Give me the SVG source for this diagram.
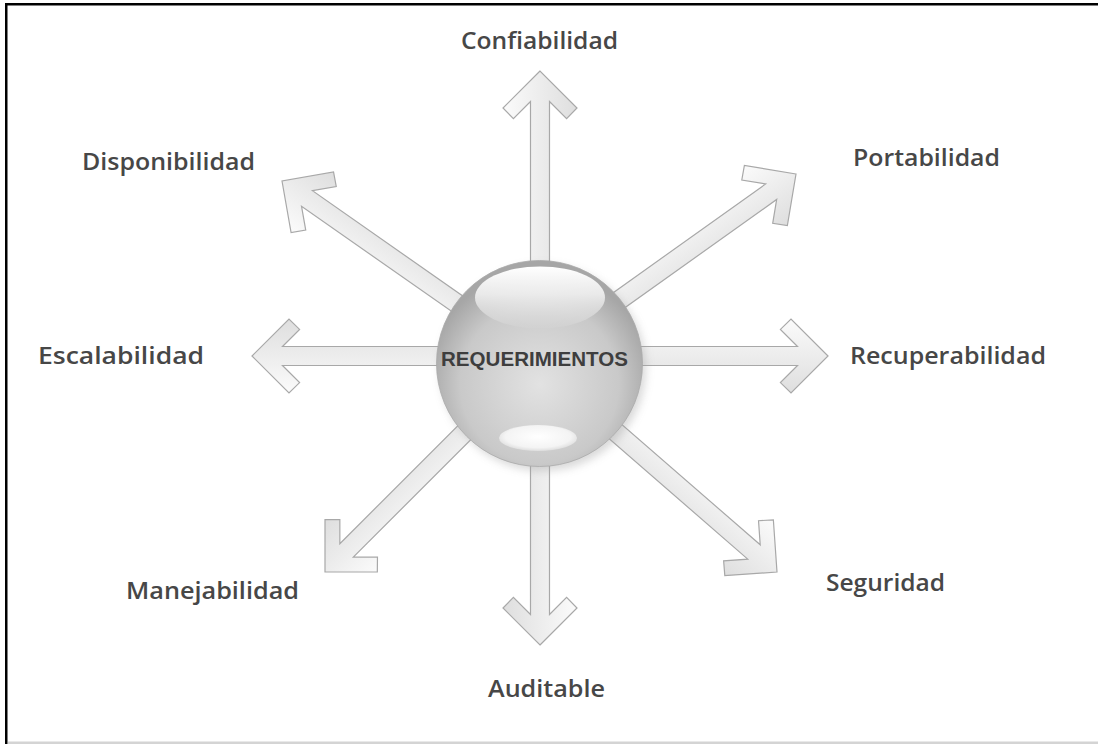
<svg xmlns="http://www.w3.org/2000/svg" width="1098" height="744" viewBox="0 0 1098 744">
<defs>
<linearGradient id="ag" x1="0" y1="0" x2="0" y2="1">
<stop offset="0" stop-color="#fbfbfb"/>
<stop offset="1" stop-color="#dedede"/>
</linearGradient>
<radialGradient id="sg" cx="0.5" cy="0.6" r="0.55">
<stop offset="0" stop-color="#e2e2e2"/>
<stop offset="0.7" stop-color="#c9c9c9"/>
<stop offset="1" stop-color="#a6a6a6"/>
</radialGradient>
<linearGradient id="hg" x1="0" y1="0" x2="0" y2="1">
<stop offset="0" stop-color="#ffffff" stop-opacity="1"/>
<stop offset="0.45" stop-color="#f0f0f0" stop-opacity="0.9"/>
<stop offset="1" stop-color="#d2d2d2" stop-opacity="0.6"/>
</linearGradient>
<radialGradient id="bg" cx="0.5" cy="0.45" r="0.6">
<stop offset="0" stop-color="#ffffff"/>
<stop offset="0.7" stop-color="#f4f4f4"/>
<stop offset="1" stop-color="#d6d6d6"/>
</radialGradient>
<filter id="blur" x="-20%" y="-20%" width="140%" height="140%">
<feGaussianBlur stdDeviation="4"/>
</filter>
<style>
.arr{fill:url(#ag);stroke:#a8a8a8;stroke-width:1.2;stroke-linejoin:miter}
.lbl{font-family:"Open Sans","Liberation Sans",sans-serif;font-weight:600;font-size:24px;fill:#474747}
.ctr{font-family:"Liberation Sans",Arial,sans-serif;font-weight:bold;font-size:19.5px;fill:#3e3e3e}
</style>
</defs>
<rect x="0" y="0" width="1098" height="744" fill="#ffffff"/>
<rect x="5" y="3" width="2.5" height="741" fill="#000"/>
<rect x="5" y="3" width="1093" height="2.5" fill="#000"/>
<rect x="8" y="741.5" width="1090" height="2.5" fill="#d4d4d4"/>

<g id="connectors">
<path class="arr" transform="translate(540,71) rotate(-90)" d="M0,0 L-37,-37 L-47.6,-26.6 L-30.5,-9.5 L-240,-9.5 L-240,9.5 L-30.5,9.5 L-47.6,26.6 L-37,37 Z"/>
<path class="arr" transform="translate(540,645) rotate(90)" d="M0,0 L-37,-37 L-47.6,-26.6 L-30.5,-9.5 L-232,-9.5 L-232,9.5 L-30.5,9.5 L-47.6,26.6 L-37,37 Z"/>
<path class="arr" transform="translate(252,356) rotate(180)" d="M0,0 L-37,-37 L-47.6,-26.6 L-30.5,-9.5 L-238,-9.5 L-238,9.5 L-30.5,9.5 L-47.6,26.6 L-37,37 Z"/>
<path class="arr" transform="translate(828,356)" d="M0,0 L-37,-37 L-47.6,-26.6 L-30.5,-9.5 L-238,-9.5 L-238,9.5 L-30.5,9.5 L-47.6,26.6 L-37,37 Z"/>
<path class="arr" transform="translate(282,181) rotate(215)" d="M0,0 L-37,-37 L-47.6,-26.6 L-30.5,-9.5 L-265,-9.5 L-265,9.5 L-30.5,9.5 L-47.6,26.6 L-37,37 Z"/>
<path class="arr" transform="translate(796,174) rotate(-35.5)" d="M0,0 L-37,-37 L-47.6,-26.6 L-30.5,-9.5 L-268,-9.5 L-268,9.5 L-30.5,9.5 L-47.6,26.6 L-37,37 Z"/>
<path class="arr" transform="translate(325,572) rotate(135)" d="M0,0 L-37,-37 L-47.6,-26.6 L-30.5,-9.5 L-250,-9.5 L-250,9.5 L-30.5,9.5 L-47.6,26.6 L-37,37 Z"/>
<path class="arr" transform="translate(777,572) rotate(41)" d="M0,0 L-37,-37 L-47.6,-26.6 L-30.5,-9.5 L-266,-9.5 L-266,9.5 L-30.5,9.5 L-47.6,26.6 L-37,37 Z"/>
</g>

<g id="requerimientos">
<circle cx="543" cy="368" r="103" fill="#a0a0a0" opacity="0.4" filter="url(#blur)"/>
<circle cx="539.5" cy="363.5" r="103" fill="url(#sg)" stroke="#aaaaaa" stroke-width="0.8"/>
<ellipse cx="540" cy="297.5" rx="65" ry="31" fill="url(#hg)"/>
<ellipse cx="538" cy="438" rx="39" ry="13" fill="url(#bg)"/>
<text class="ctr" x="534.5" y="366" text-anchor="middle" textLength="187" lengthAdjust="spacingAndGlyphs">REQUERIMIENTOS</text>
</g>

<g id="confiabilidad"><text class="lbl" x="539.5" y="49" text-anchor="middle" textLength="157" lengthAdjust="spacingAndGlyphs">Confiabilidad</text></g>
<g id="disponibilidad"><text class="lbl" x="168.5" y="170" text-anchor="middle" textLength="173" lengthAdjust="spacingAndGlyphs">Disponibilidad</text></g>
<g id="portabilidad"><text class="lbl" x="926.5" y="166" text-anchor="middle" textLength="147" lengthAdjust="spacingAndGlyphs">Portabilidad</text></g>
<g id="escalabilidad"><text class="lbl" x="121" y="364" text-anchor="middle" textLength="166" lengthAdjust="spacingAndGlyphs">Escalabilidad</text></g>
<g id="recuperabilidad"><text class="lbl" x="948" y="364" text-anchor="middle" textLength="196" lengthAdjust="spacingAndGlyphs">Recuperabilidad</text></g>
<g id="manejabilidad"><text class="lbl" x="212.5" y="599" text-anchor="middle" textLength="173" lengthAdjust="spacingAndGlyphs">Manejabilidad</text></g>
<g id="seguridad"><text class="lbl" x="885.5" y="591" text-anchor="middle" textLength="119" lengthAdjust="spacingAndGlyphs">Seguridad</text></g>
<g id="auditable"><text class="lbl" x="546.5" y="697" text-anchor="middle" textLength="117" lengthAdjust="spacingAndGlyphs">Auditable</text></g>
</svg>
